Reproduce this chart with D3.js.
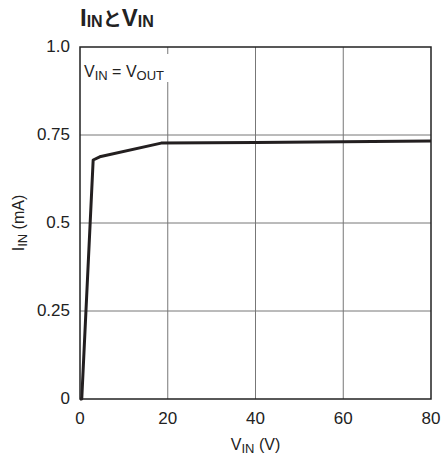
<!DOCTYPE html>
<html>
<head>
<meta charset="utf-8">
<script src="https://cdn.jsdelivr.net/npm/d3@7"></script>
<style>
  body { margin: 0; background: #fff; }
  svg { font-family: "Liberation Sans Narrow", "Liberation Sans", Arial, sans-serif; }
</style>
</head>
<body>
<script>
// 読み取った値 (V_IN, I_IN)
const vin = [0, 0.4, 3, 4.5, 18.5, 40, 60, 80];
const iin = [0, 0.0, 0.679, 0.688, 0.727, 0.729, 0.731, 0.733];
const xTicks = [0, 20, 40, 60, 80];
const yTicks = [0, 0.25, 0.5, 0.75, 1.0];
const yTickLabels = ["0", "0.25", "0.5", "0.75", "1.0"];

const W = 441, H = 462;
const m = { left: 80, right: 10, top: 47, bottom: 63 };

const svg = d3.select("body").append("svg").attr("width", W).attr("height", H);

const x = d3.scaleLinear().domain([0, 80]).range([m.left, W - m.right]);
const y = d3.scaleLinear().domain([0, 1]).range([H - m.bottom, m.top]);

// グリッド
svg.append("g")
  .selectAll("line")
  .data(xTicks.slice(1, -1))
  .join("line")
  .attr("x1", d => x(d)).attr("x2", d => x(d))
  .attr("y1", y(1)).attr("y2", y(0))
  .attr("stroke", "#777").attr("stroke-width", 1);

svg.append("g")
  .selectAll("line")
  .data(yTicks.slice(1, -1))
  .join("line")
  .attr("x1", x(0)).attr("x2", x(80))
  .attr("y1", d => y(d)).attr("y2", d => y(d))
  .attr("stroke", "#777").attr("stroke-width", 1);

// 注記 (背景白)
svg.append("rect")
  .attr("x", x(0) + 2).attr("y", y(1) + 7)
  .attr("width", 90).attr("height", 28)
  .attr("fill", "#fff");

const note = svg.append("text")
  .attr("x", x(0) + 4).attr("y", y(1) + 30)
  .attr("font-size", 16).attr("fill", "#222");
note.append("tspan").text("V");
note.append("tspan").attr("font-size", 13).attr("dy", 3).text("IN");
note.append("tspan").attr("dy", -3).text(" = V");
note.append("tspan").attr("font-size", 13).attr("dy", 3).text("OUT");

// 外枠
svg.append("rect")
  .attr("x", x(0)).attr("y", y(1))
  .attr("width", x(80) - x(0)).attr("height", y(0) - y(1))
  .attr("fill", "none").attr("stroke", "#222").attr("stroke-width", 1.5);

// 曲線
const line = d3.line().x((d, i) => x(vin[i])).y(d => y(d));
svg.append("path")
  .datum(iin)
  .attr("d", line)
  .attr("fill", "none")
  .attr("stroke", "#231f20")
  .attr("stroke-width", 3)
  .attr("stroke-linejoin", "round");

// 目盛ラベル
svg.append("g")
  .selectAll("text")
  .data(xTicks)
  .join("text")
  .attr("x", d => x(d)).attr("y", y(0) + 25)
  .attr("text-anchor", "middle")
  .attr("font-size", 17).attr("fill", "#222")
  .text(d => d);

svg.append("g")
  .selectAll("text")
  .data(yTicks)
  .join("text")
  .attr("x", x(0) - 10).attr("y", d => y(d) + 5)
  .attr("text-anchor", "end")
  .attr("font-size", 17).attr("fill", "#222")
  .text((d, i) => yTickLabels[i]);

// 軸タイトル
const xl = svg.append("text")
  .attr("x", (x(0) + x(80)) / 2).attr("y", 450)
  .attr("text-anchor", "middle")
  .attr("font-size", 16).attr("fill", "#222");
xl.append("tspan").text("V");
xl.append("tspan").attr("font-size", 13).attr("dy", 3).text("IN");
xl.append("tspan").attr("dy", -3).text(" (V)");

const yl = svg.append("text")
  .attr("transform", `translate(24,${(y(0) + y(1)) / 2}) rotate(-90)`)
  .attr("text-anchor", "middle")
  .attr("font-size", 16).attr("fill", "#222");
yl.append("tspan").text("I");
yl.append("tspan").attr("font-size", 13).attr("dy", 3).text("IN");
yl.append("tspan").attr("dy", -3).text(" (mA)");

// タイトル
const t = svg.append("text")
  .attr("x", 80).attr("y", 26)
  .attr("font-size", 24).attr("font-weight", "bold").attr("fill", "#222");
t.append("tspan").text("I");
t.append("tspan").attr("font-size", 16).attr("dy", 1).text("IN");
t.append("tspan").attr("dy", -1).attr("font-family", "Noto Sans CJK JP").attr("font-size", 19).text("と");
t.append("tspan").text("V");
t.append("tspan").attr("font-size", 16).attr("dy", 1).text("IN");
</script>
</body>
</html>
